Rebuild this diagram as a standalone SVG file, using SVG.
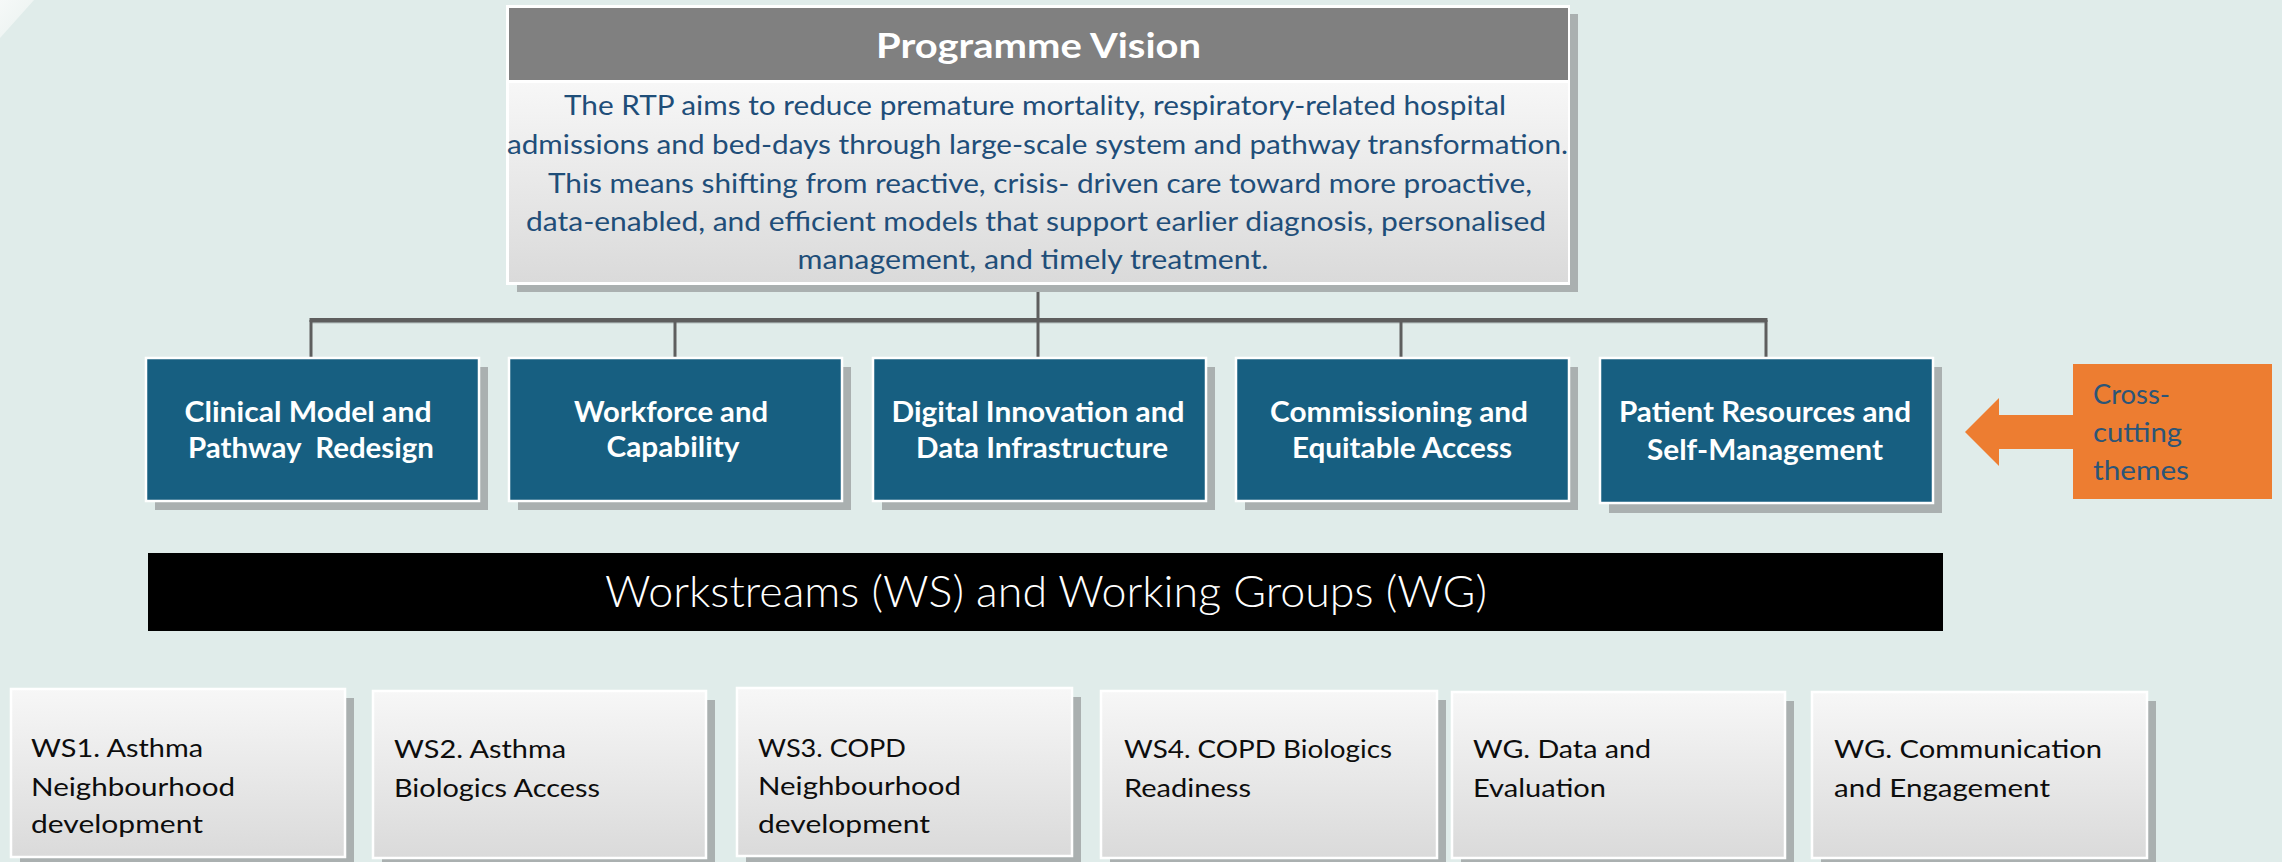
<svg xmlns="http://www.w3.org/2000/svg" width="2282" height="862" viewBox="0 0 2282 862">
  <defs>
    <linearGradient id="gBody" x1="0" y1="0" x2="0" y2="1">
      <stop offset="0" stop-color="#f7f7f7"/>
      <stop offset="1" stop-color="#dadada"/>
    </linearGradient>
    <linearGradient id="gCorner" x1="0" y1="0" x2="1" y2="1">
      <stop offset="0" stop-color="#f6f9f8"/>
      <stop offset="1" stop-color="#e9f1ef"/>
    </linearGradient>
    <style>
      .shadow { fill: #aab0b0; }
      .teal { fill: #175f81; stroke: #ffffff; stroke-width: 2.5; }
      .ws { fill: url(#gBody); stroke: #ffffff; stroke-width: 2.5; }
      .tealtxt { font-family: Lato, "Open Sans", sans-serif; font-weight: bold; font-size: 28px; fill: #ffffff; text-anchor: middle; white-space: pre; }
      .vistxt { font-family: Lato, "Open Sans", sans-serif; font-size: 26px; fill: #1f4e79; text-anchor: middle; }
      .wstxt { font-family: Lato, "Open Sans", sans-serif; font-size: 25px; fill: #0d0d0d; }
      .ortxt { font-family: Lato, "Open Sans", sans-serif; font-size: 27px; fill: #2c5577; }
      .conn { stroke: #5e5e5e; fill: none; }
    </style>
  </defs>

  <rect x="0" y="0" width="2282" height="862" fill="#e0ecea"/>
  <polygon points="0,0 34,0 0,38" fill="url(#gCorner)"/>

  <g id="connectors">
    <line class="conn" x1="1038" y1="284" x2="1038" y2="320" stroke-width="3"/>
    <line x1="311" y1="322.5" x2="1766" y2="322.5" stroke="#8f9696" stroke-width="1.5"/>
    <line class="conn" x1="309.5" y1="320" x2="1767.5" y2="320" stroke-width="4"/>
    <line class="conn" x1="311" y1="320" x2="311" y2="358" stroke-width="3"/>
    <line class="conn" x1="675" y1="320" x2="675" y2="358" stroke-width="3"/>
    <line class="conn" x1="1038" y1="320" x2="1038" y2="358" stroke-width="3"/>
    <line class="conn" x1="1401" y1="320" x2="1401" y2="358" stroke-width="3"/>
    <line class="conn" x1="1766" y1="320" x2="1766" y2="358" stroke-width="3"/>
  </g>

  <g id="vision">
    <rect class="shadow" x="517" y="14" width="1061" height="278"/>
    <rect x="506" y="5" width="1064" height="280" fill="#ffffff"/>
    <rect x="509" y="8" width="1059" height="72" fill="#808080"/>
    <rect x="509" y="83" width="1059" height="199" fill="url(#gBody)"/>
    <text x="1038.5" y="58" font-family="Lato, 'Open Sans', sans-serif" font-weight="bold" font-size="35" fill="#ffffff" text-anchor="middle" textLength="325" lengthAdjust="spacingAndGlyphs">Programme Vision</text>
    <text class="vistxt" x="1035" y="115" textLength="942" lengthAdjust="spacingAndGlyphs">The RTP aims to reduce premature mortality, respiratory-related hospital</text>
    <text class="vistxt" x="1037.5" y="154" textLength="1061" lengthAdjust="spacingAndGlyphs">admissions and bed-days through large-scale system and pathway transformation.</text>
    <text class="vistxt" x="1040" y="193" textLength="984" lengthAdjust="spacingAndGlyphs">This means shifting from reactive, crisis- driven care toward more proactive,</text>
    <text class="vistxt" x="1036" y="231" textLength="1020" lengthAdjust="spacingAndGlyphs">data-enabled, and efficient models that support earlier diagnosis, personalised</text>
    <text class="vistxt" x="1033" y="269" textLength="471" lengthAdjust="spacingAndGlyphs">management, and timely treatment.</text>
  </g>

  <g id="theme1">
    <rect class="shadow" x="155" y="367" width="333" height="143"/>
    <rect class="teal" x="146" y="358" width="333" height="143"/>
    <text class="tealtxt" x="308" y="422" textLength="247" lengthAdjust="spacingAndGlyphs">Clinical Model and</text>
    <text class="tealtxt" x="311" y="458" textLength="246" lengthAdjust="spacingAndGlyphs">Pathway  Redesign</text>
  </g>
  <g id="theme2">
    <rect class="shadow" x="518" y="367" width="333" height="143"/>
    <rect class="teal" x="509" y="358" width="333" height="143"/>
    <text class="tealtxt" x="671" y="422" textLength="194" lengthAdjust="spacingAndGlyphs">Workforce and</text>
    <text class="tealtxt" x="673" y="457" textLength="133" lengthAdjust="spacingAndGlyphs">Capability</text>
  </g>
  <g id="theme3">
    <rect class="shadow" x="882" y="367" width="333" height="143"/>
    <rect class="teal" x="873" y="358" width="333" height="143"/>
    <text class="tealtxt" x="1038" y="422" textLength="293" lengthAdjust="spacingAndGlyphs">Digital Innovation and</text>
    <text class="tealtxt" x="1042" y="458" textLength="252" lengthAdjust="spacingAndGlyphs">Data Infrastructure</text>
  </g>
  <g id="theme4">
    <rect class="shadow" x="1245" y="367" width="333" height="143"/>
    <rect class="teal" x="1236" y="358" width="333" height="143"/>
    <text class="tealtxt" x="1399" y="422" textLength="258" lengthAdjust="spacingAndGlyphs">Commissioning and</text>
    <text class="tealtxt" x="1402" y="458" textLength="220" lengthAdjust="spacingAndGlyphs">Equitable Access</text>
  </g>
  <g id="theme5">
    <rect class="shadow" x="1609" y="367" width="333" height="146"/>
    <rect class="teal" x="1600" y="358" width="333" height="145"/>
    <text class="tealtxt" x="1765" y="422" textLength="292" lengthAdjust="spacingAndGlyphs">Patient Resources and</text>
    <text class="tealtxt" x="1765" y="460" textLength="236" lengthAdjust="spacingAndGlyphs">Self-Management</text>
  </g>

  <g id="crosscutting">
    <polygon points="1965,432 1999,398 1999,415 2074,415 2074,449 1999,449 1999,466" fill="#ed7d31"/>
    <rect x="2073" y="364" width="199" height="135" fill="#ed7d31"/>
    <text class="ortxt" x="2093" y="404" textLength="77" lengthAdjust="spacingAndGlyphs">Cross-</text>
    <text class="ortxt" x="2093" y="442" textLength="89" lengthAdjust="spacingAndGlyphs">cutting</text>
    <text class="ortxt" x="2093" y="480" textLength="96" lengthAdjust="spacingAndGlyphs">themes</text>
  </g>

  <g id="workstreams-header">
    <rect x="148" y="553" width="1795" height="78" fill="#000000"/>
    <text x="1046" y="607" font-family="Lato, 'Open Sans', sans-serif" font-weight="300" font-size="43" fill="#ffffff" text-anchor="middle" textLength="882" lengthAdjust="spacingAndGlyphs">Workstreams (WS) and Working Groups (WG)</text>
  </g>

  <g id="ws1">
    <rect class="shadow" x="20" y="698" width="334" height="168"/>
    <rect class="ws" x="11" y="689" width="334" height="168"/>
    <text class="wstxt" x="31" y="757" textLength="172" lengthAdjust="spacingAndGlyphs">WS1. Asthma</text>
    <text class="wstxt" x="31" y="796" textLength="204" lengthAdjust="spacingAndGlyphs">Neighbourhood</text>
    <text class="wstxt" x="31" y="833" textLength="172" lengthAdjust="spacingAndGlyphs">development</text>
  </g>
  <g id="ws2">
    <rect class="shadow" x="382" y="700" width="333" height="167"/>
    <rect class="ws" x="373" y="691" width="333" height="167"/>
    <text class="wstxt" x="394" y="758" textLength="172" lengthAdjust="spacingAndGlyphs">WS2. Asthma</text>
    <text class="wstxt" x="394" y="797" textLength="206" lengthAdjust="spacingAndGlyphs">Biologics Access</text>
  </g>
  <g id="ws3">
    <rect class="shadow" x="746" y="697" width="335" height="168"/>
    <rect class="ws" x="737" y="688" width="335" height="168"/>
    <text class="wstxt" x="758" y="757" textLength="148" lengthAdjust="spacingAndGlyphs">WS3. COPD</text>
    <text class="wstxt" x="758" y="795" textLength="203" lengthAdjust="spacingAndGlyphs">Neighbourhood</text>
    <text class="wstxt" x="758" y="833" textLength="172" lengthAdjust="spacingAndGlyphs">development</text>
  </g>
  <g id="ws4">
    <rect class="shadow" x="1110" y="700" width="336" height="167"/>
    <rect class="ws" x="1101" y="691" width="336" height="167"/>
    <text class="wstxt" x="1124" y="758" textLength="268" lengthAdjust="spacingAndGlyphs">WS4. COPD Biologics</text>
    <text class="wstxt" x="1124" y="797" textLength="127" lengthAdjust="spacingAndGlyphs">Readiness</text>
  </g>
  <g id="wg-data">
    <rect class="shadow" x="1461" y="701" width="333" height="166"/>
    <rect class="ws" x="1452" y="692" width="333" height="166"/>
    <text class="wstxt" x="1473" y="758" textLength="178" lengthAdjust="spacingAndGlyphs">WG. Data and</text>
    <text class="wstxt" x="1473" y="797" textLength="133" lengthAdjust="spacingAndGlyphs">Evaluation</text>
  </g>
  <g id="wg-comms">
    <rect class="shadow" x="1821" y="701" width="335" height="166"/>
    <rect class="ws" x="1812" y="692" width="335" height="166"/>
    <text class="wstxt" x="1834" y="758" textLength="268" lengthAdjust="spacingAndGlyphs">WG. Communication</text>
    <text class="wstxt" x="1834" y="797" textLength="216" lengthAdjust="spacingAndGlyphs">and Engagement</text>
  </g>
</svg>
